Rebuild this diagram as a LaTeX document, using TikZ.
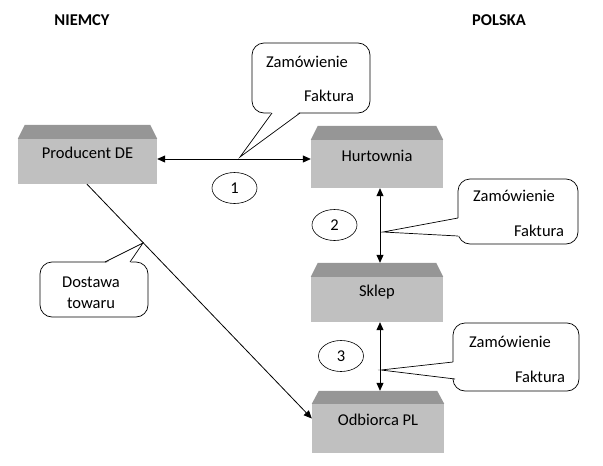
\documentclass[tikz,border=0pt]{standalone}
\usepackage{fontspec}
\setmainfont{Carlito}
\usetikzlibrary{arrows.meta,shapes.geometric}
\definecolor{bodygray}{RGB}{192,192,192}
\definecolor{topgray}{RGB}{150,150,150}
\begin{document}
\begin{tikzpicture}[x=1pt,y=-1pt,
  every node/.style={font=\fontsize{16.5}{19}\selectfont},
  bodybox/.style={rectangle, fill=bodygray, inner sep=0pt, text height=11pt, text depth=17pt},
  topface/.style={fill=topgray},
  numell/.style={ellipse, draw, line width=0.6pt, minimum width=45pt, minimum height=31pt, inner sep=0pt},
  dbl/.style={{Triangle[length=8pt,width=7pt]}-{Triangle[length=8pt,width=7pt]}, line width=0.8pt},
  single/.style={-{Triangle[length=8pt,width=7pt]}, line width=0.8pt},
  callout/.style={draw, line width=0.7pt, fill=white, rounded corners=12pt},
  pointer/.style={line width=0.7pt},
  heading/.style={font=\fontsize{16.5}{19}\selectfont\bfseries},
]
\useasboundingbox (0,0) rectangle (603,466);

% headings
\node[heading] (niemcy) at (82,20) {NIEMCY};
\node[heading] (polska) at (499,20) {POLSKA};

% boxes
\node[bodybox, minimum width=139pt, minimum height=45pt] (pde) at (87.5,161.5) {Producent DE};
\node[bodybox, minimum width=132pt, minimum height=48pt] (hurt) at (377,164) {Hurtownia};
\node[bodybox, minimum width=132pt, minimum height=45pt] (sklep) at (377,299.5) {Sklep};
\node[bodybox, minimum width=132pt, minimum height=49pt] (odb) at (378,428.5) {Odbiorca PL};

\foreach \b/\h in {pde/14,hurt/14,sklep/14,odb/13}{
  \fill[topface] (\b.north west) -- ([shift={(7pt,\h pt)}]\b.north west)
     -- ([shift={(-7pt,\h pt)}]\b.north east) -- (\b.north east) -- cycle;
}

% connectors
\draw[dbl] (pde.east |- 0,159) -- (hurt.west |- 0,159);
\draw[dbl] ([xshift=3pt]hurt.south) -- ([xshift=3pt,yshift=14pt]sklep.north);
\draw[dbl] ([xshift=3pt]sklep.south) -- ([xshift=2pt,yshift=13pt]odb.north);
\draw[single] ([xshift=-0.5pt]pde.south) -- ([yshift=10pt]odb.west);

% numbers
\node[numell] (n1) at (234.5,188) {1};
\node[numell] (n2) at (334.5,225) {2};
\node[numell] (n3) at (341,356) {3};

% callout 1
\coordinate (t1) at (240,157);
\draw[callout] (252,43) rectangle (370,113);
\fill[white] (272,111.5) -- (t1) -- (300,111.5) -- cycle;
\draw[pointer] (272,113) -- (t1) -- (300,113);
\node (c1a) at (307,62) {Zamówienie};
\node (c1b) at (329,96) {Faktura};

% callout 2
\coordinate (t2) at (383,232);
\draw[callout] (458,179) rectangle (578,244);
\fill[white] (459.5,218) -- (t2) -- (459.5,236) -- cycle;
\draw[pointer] (458,218) -- (t2) -- (458,236);
\node (c2a) at (514,196) {Zamówienie};
\node (c2b) at (539,231) {Faktura};

% callout 3
\coordinate (t3) at (381,370);
\draw[callout] (453,323) rectangle (579,391);
\fill[white] (454.5,362) -- (t3) -- (456,379) -- cycle;
\draw[pointer] (453,362) -- (t3) -- (455,379);
\node (c3a) at (510,342) {Zamówienie};
\node (c3b) at (540,377) {Faktura};

% callout 4
\coordinate (t4) at (143,243);
\draw[callout] (40,262) rectangle (148,317);
\fill[white] (105,263.5) -- (t4) -- (130,263.5) -- cycle;
\draw[pointer] (105,262) -- (t4) -- (130,262);
\node (c4a) at (91,282) {Dostawa};
\node (c4b) at (91,303) {towaru};
\end{tikzpicture}
\end{document}
